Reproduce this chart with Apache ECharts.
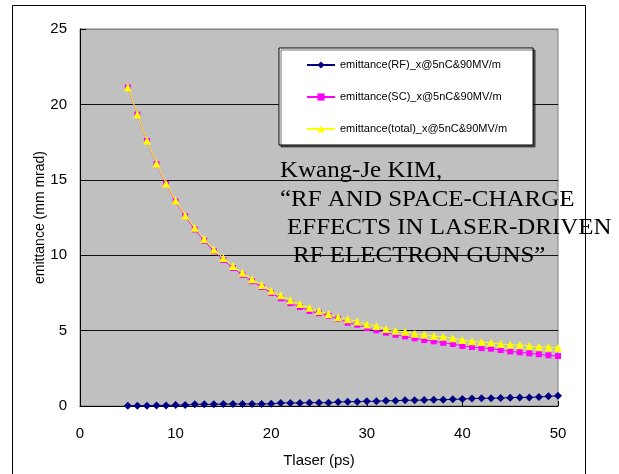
<!DOCTYPE html>
<html>
<head>
<meta charset="utf-8">
<script src="https://cdn.jsdelivr.net/npm/echarts@6/dist/echarts.min.js"></script>
<style>
  html, body { margin: 0; padding: 0; background: #fff; }
  #chart { width: 619px; height: 474px; }
</style>
</head>
<body>
<div id="chart"></div>
<script>
// Tlaser (ps)
const tlaser = [5, 6, 7, 8, 9, 10, 11, 12, 13, 14, 15, 16, 17, 18, 19, 20, 21, 22, 23, 24, 25, 26, 27,
    28, 29, 30, 31, 32, 33, 34, 35, 36, 37, 38, 39, 40, 41, 42, 43, 44, 45, 46, 47, 48, 49, 50];
// emittance (mm mrad)
const emitRF = [0.02, 0.02, 0.02, 0.04, 0.04, 0.06, 0.06, 0.11, 0.11, 0.11, 0.13, 0.13, 0.13, 0.13, 0.13, 0.15,
    0.20, 0.20, 0.20, 0.22, 0.22, 0.22, 0.26, 0.29, 0.29, 0.31, 0.31, 0.35, 0.35, 0.38, 0.38, 0.40,
    0.42, 0.42, 0.44, 0.46, 0.49, 0.51, 0.51, 0.53, 0.55, 0.57, 0.57, 0.60, 0.64, 0.68];
const emitSC = [21.12, 19.32, 17.58, 16.04, 14.72, 13.57, 12.58, 11.71, 10.96, 10.27, 9.68, 9.15, 8.70, 8.27,
    7.89, 7.49, 7.14, 6.82, 6.56, 6.30, 6.15, 5.98, 5.78, 5.52, 5.39, 5.17, 5.02, 4.86, 4.72, 4.62,
    4.49, 4.37, 4.29, 4.19, 4.11, 3.98, 3.91, 3.84, 3.80, 3.71, 3.62, 3.56, 3.49, 3.43, 3.36, 3.31];
const emitTotal = [21.14, 19.35, 17.61, 16.08, 14.76, 13.63, 12.64, 11.82, 11.07, 10.38, 9.81, 9.28, 8.83, 8.40,
    8.02, 7.64, 7.34, 7.02, 6.76, 6.51, 6.30, 6.10, 5.88, 5.75, 5.61, 5.41, 5.30, 5.10, 4.99, 4.92,
    4.79, 4.72, 4.64, 4.59, 4.49, 4.37, 4.29, 4.24, 4.19, 4.11, 4.06, 4.04, 3.98, 3.93, 3.90, 3.86];

const seriesNames = ['emittance(RF)_x@5nC&90MV/m', 'emittance(SC)_x@5nC&90MV/m', 'emittance(total)_x@5nC&90MV/m'];
const noteLines = ['Kwang-Je KIM,', '\u201cRF AND SPACE-CHARGE', 'EFFECTS IN LASER-DRIVEN', 'RF ELECTRON GUNS\u201d'];

const sansFont = '"Liberation Sans", Arial, sans-serif';
const serifFont = '"Liberation Serif", "Times New Roman", serif';

function pairs(ys) {
    return tlaser.map((x, i) => [x, ys[i]]);
}

// 引用文献のテキスト
function noteText(text, x, y) {
    return {
        type: 'text', x: x, y: y, scaleX: 1.04, z: 100, silent: true,
        style: { text: text, font: '24px ' + serifFont, fill: '#000' },
    };
}

let myChart = echarts.init(document.getElementById('chart'));

let option = {
    animation: false,
    backgroundColor: '#fff',
    grid: {
        left: 80,
        top: 29,
        right: 61,
        bottom: 68,
        show: true,
        backgroundColor: '#c0c0c0',
        borderColor: '#808080',
        borderWidth: 1,
    },
    legend: {
        orient: 'vertical',
        left: 279,
        top: 48,
        padding: [10, 26, 9, 27],
        itemGap: 18,
        itemWidth: 28,
        itemHeight: 9,
        backgroundColor: '#fff',
        borderColor: '#000',
        borderWidth: 1,
        shadowColor: 'rgba(0,0,0,0.55)',
        shadowOffsetX: 2,
        shadowOffsetY: 2,
        shadowBlur: 0,
        textStyle: { fontFamily: sansFont, fontSize: 11, color: '#000', lineHeight: 14 },
        data: seriesNames,
    },
    xAxis: {
        type: 'value',
        min: 0,
        max: 50,
        interval: 10,
        name: 'Tlaser (ps)',
        nameLocation: 'middle',
        nameGap: 47,
        nameMoveOverlap: false,
        nameTextStyle: { fontFamily: sansFont, fontSize: 15, color: '#000' },
        axisLine: { show: true, onZero: false, lineStyle: { color: '#000', width: 1 } },
        axisTick: { show: true, inside: true, length: 5, lineStyle: { color: '#000' } },
        axisLabel: { margin: 20, fontFamily: sansFont, fontSize: 15, color: '#000' },
        splitLine: { show: false },
    },
    yAxis: {
        type: 'value',
        min: 0,
        max: 25,
        interval: 5,
        name: 'emittance (mm mrad)',
        nameLocation: 'middle',
        nameGap: 33,
        nameMoveOverlap: false,
        nameTextStyle: { fontFamily: sansFont, fontSize: 14, color: '#000' },
        axisLine: { show: true, onZero: false, lineStyle: { color: '#000', width: 1 } },
        axisTick: { show: true, inside: true, length: 6, lineStyle: { color: '#000' } },
        axisLabel: { margin: 13, fontFamily: sansFont, fontSize: 15, color: '#000' },
        splitLine: {
            show: true,
            lineStyle: { color: ['#000', '#111', '#111', '#111', '#111', '#808080'], width: 1 },
        },
    },
    series: [
        {
            name: seriesNames[0],
            type: 'line',
            data: pairs(emitRF),
            symbol: 'diamond',
            symbolSize: 8,
            itemStyle: { color: '#000080' },
            lineStyle: { color: '#000080', width: 1 },
        },
        {
            name: seriesNames[1],
            type: 'line',
            data: pairs(emitSC),
            symbol: 'rect',
            symbolSize: 6,
            itemStyle: { color: '#ff00ff' },
            lineStyle: { color: '#ff00ff', width: 1 },
        },
        {
            name: seriesNames[2],
            type: 'line',
            data: pairs(emitTotal),
            symbol: 'triangle',
            symbolSize: 8,
            itemStyle: { color: '#ffff00' },
            lineStyle: { color: '#ffff00', width: 1 },
        },
    ],
    graphic: [
        // 外枠
        {
            type: 'rect',
            z: 0,
            silent: true,
            shape: { x: 12.5, y: 5.5, width: 573, height: 520 },
            style: { fill: null, stroke: '#000', lineWidth: 1 },
        },
        noteText(noteLines[0], 280, 159),
        noteText(noteLines[1], 280, 188),
        noteText(noteLines[2], 287, 216),
        noteText(noteLines[3], 293, 244),
    ],
};

myChart.setOption(option);
</script>
</body>
</html>
